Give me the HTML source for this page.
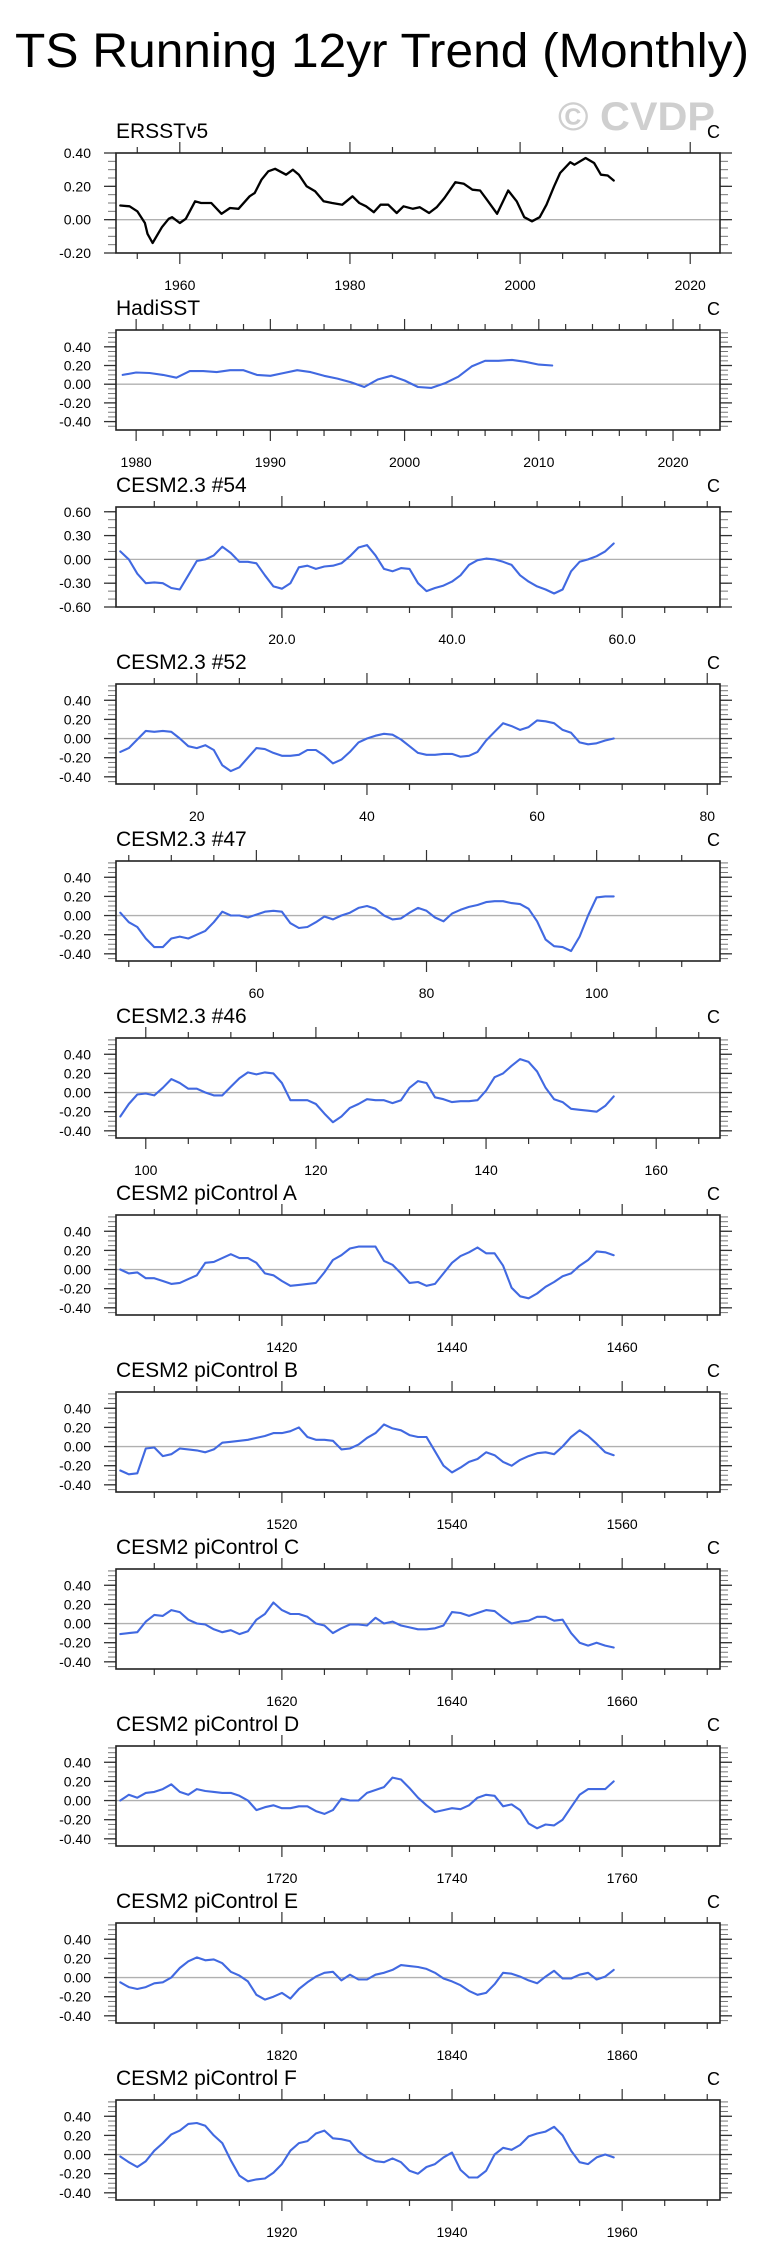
<!DOCTYPE html>
<html><head><meta charset="utf-8">
<style>
html,body{margin:0;padding:0;background:#fff;}
svg{display:block;font-family:"Liberation Sans",Arial,sans-serif;}
</style></head>
<body>
<svg id="chart" width="760" height="2266" viewBox="0 0 760 2266" xmlns="http://www.w3.org/2000/svg">
<text x="15" y="67" font-size="48" textLength="734" lengthAdjust="spacingAndGlyphs" fill="#000">TS Running 12yr Trend (Monthly)</text>
<text x="558" y="130" font-size="40" font-weight="bold" fill="#cfcfcf" textLength="157" lengthAdjust="spacingAndGlyphs">© CVDP</text>
</svg>
<script>
// ---- data ----
const ersstYears = [1953.0,1954.1,1955.0,1955.9,1956.2,1956.8,1957.9,1958.7,1959.1,1960.0,1960.7,1961.8,1962.5,1963.7,1964.9,1965.9,1966.9,1968.2,1968.8,1969.6,1970.4,1971.2,1972.5,1973.3,1974.0,1974.9,1975.9,1976.9,1977.9,1979.1,1980.3,1981.1,1981.9,1982.8,1983.6,1984.5,1985.5,1986.3,1987.4,1988.2,1989.3,1990.2,1991.1,1992.4,1993.4,1994.4,1995.3,1996.1,1997.3,1998.6,1999.6,2000.5,2001.4,2002.3,2003.1,2004.0,2004.7,2005.9,2006.4,2007.7,2008.7,2009.5,2010.3,2011.0];
const ersstVals = [0.085,0.08,0.05,-0.02,-0.085,-0.14,-0.045,0.005,0.015,-0.02,0.005,0.11,0.1,0.1,0.035,0.07,0.065,0.14,0.16,0.24,0.29,0.305,0.27,0.30,0.27,0.2,0.17,0.11,0.1,0.09,0.14,0.1,0.08,0.045,0.09,0.09,0.04,0.08,0.065,0.075,0.04,0.075,0.13,0.225,0.215,0.18,0.175,0.12,0.035,0.175,0.11,0.015,-0.01,0.015,0.09,0.2,0.28,0.345,0.33,0.37,0.34,0.27,0.265,0.235];
const hadStart = 1979;
const hadVals = [0.10,0.125,0.12,0.10,0.07,0.14,0.14,0.13,0.15,0.15,0.10,0.09,0.12,0.15,0.13,0.09,0.06,0.02,-0.03,0.05,0.09,0.04,-0.03,-0.04,0.01,0.08,0.19,0.25,0.25,0.26,0.24,0.21,0.20];
const c54Start = 1;
const c54Vals = [0.10,0.0,-0.18,-0.3,-0.29,-0.3,-0.36,-0.38,-0.2,-0.02,0.0,0.05,0.16,0.08,-0.03,-0.03,-0.05,-0.2,-0.34,-0.37,-0.3,-0.1,-0.08,-0.12,-0.09,-0.08,-0.05,0.04,0.15,0.18,0.05,-0.12,-0.15,-0.11,-0.12,-0.3,-0.4,-0.36,-0.33,-0.28,-0.2,-0.07,-0.01,0.01,0.0,-0.03,-0.07,-0.2,-0.28,-0.34,-0.38,-0.43,-0.38,-0.15,-0.03,0.0,0.04,0.1,0.2];
const c52Start = 11;
const c52Vals = [-0.14,-0.1,-0.01,0.08,0.07,0.08,0.07,0.0,-0.08,-0.1,-0.07,-0.12,-0.28,-0.34,-0.3,-0.2,-0.1,-0.11,-0.15,-0.18,-0.18,-0.17,-0.12,-0.12,-0.18,-0.26,-0.22,-0.14,-0.04,0.0,0.03,0.05,0.04,-0.01,-0.08,-0.15,-0.17,-0.17,-0.16,-0.16,-0.19,-0.18,-0.14,-0.02,0.07,0.16,0.13,0.09,0.12,0.19,0.18,0.16,0.09,0.06,-0.04,-0.06,-0.05,-0.02,0.0];
const c47Start = 44;
const c47Vals = [0.03,-0.07,-0.12,-0.24,-0.33,-0.33,-0.24,-0.22,-0.24,-0.2,-0.16,-0.07,0.04,0.0,0.0,-0.02,0.01,0.04,0.05,0.04,-0.08,-0.13,-0.12,-0.07,-0.01,-0.04,0.0,0.03,0.08,0.1,0.07,0.0,-0.04,-0.03,0.03,0.08,0.05,-0.02,-0.06,0.02,0.06,0.09,0.11,0.14,0.15,0.15,0.13,0.12,0.07,-0.06,-0.25,-0.32,-0.33,-0.37,-0.22,0.0,0.19,0.2,0.2];
const c46Start = 97;
const c46Vals = [-0.25,-0.12,-0.02,-0.01,-0.03,0.05,0.14,0.1,0.04,0.04,0.0,-0.03,-0.03,0.06,0.15,0.21,0.19,0.21,0.2,0.1,-0.08,-0.08,-0.08,-0.12,-0.22,-0.31,-0.25,-0.16,-0.12,-0.07,-0.08,-0.08,-0.11,-0.08,0.05,0.12,0.1,-0.05,-0.07,-0.1,-0.09,-0.09,-0.08,0.02,0.16,0.2,0.28,0.35,0.32,0.22,0.05,-0.07,-0.1,-0.17,-0.18,-0.19,-0.2,-0.14,-0.04];
const piAStart = 1401;
const piAVals = [0.0,-0.04,-0.03,-0.09,-0.09,-0.12,-0.15,-0.14,-0.1,-0.06,0.07,0.08,0.12,0.16,0.12,0.12,0.07,-0.04,-0.06,-0.12,-0.17,-0.16,-0.15,-0.14,-0.03,0.1,0.15,0.22,0.24,0.24,0.24,0.09,0.05,-0.04,-0.14,-0.13,-0.17,-0.15,-0.04,0.07,0.14,0.18,0.23,0.17,0.17,0.04,-0.19,-0.28,-0.3,-0.25,-0.18,-0.13,-0.07,-0.04,0.04,0.1,0.19,0.18,0.15];
const piBStart = 1501;
const piBVals = [-0.25,-0.29,-0.28,-0.02,-0.01,-0.1,-0.08,-0.02,-0.03,-0.04,-0.06,-0.03,0.04,0.05,0.06,0.07,0.09,0.11,0.14,0.14,0.16,0.2,0.1,0.07,0.07,0.06,-0.03,-0.02,0.02,0.09,0.14,0.23,0.19,0.17,0.12,0.1,0.1,-0.05,-0.2,-0.27,-0.22,-0.16,-0.13,-0.06,-0.09,-0.16,-0.2,-0.14,-0.1,-0.07,-0.06,-0.08,0.0,0.1,0.17,0.11,0.03,-0.06,-0.09];
const piCStart = 1601;
const piCVals = [-0.11,-0.1,-0.09,0.02,0.09,0.08,0.14,0.12,0.04,0.0,-0.01,-0.06,-0.09,-0.07,-0.11,-0.08,0.04,0.1,0.22,0.14,0.1,0.1,0.07,0.0,-0.02,-0.1,-0.05,-0.01,-0.01,-0.02,0.06,0.0,0.02,-0.02,-0.04,-0.06,-0.06,-0.05,-0.02,0.12,0.11,0.08,0.11,0.14,0.13,0.06,0.0,0.02,0.03,0.07,0.07,0.03,0.04,-0.1,-0.2,-0.23,-0.2,-0.23,-0.25];
const piDStart = 1701;
const piDVals = [0.0,0.06,0.03,0.08,0.09,0.12,0.17,0.09,0.06,0.12,0.1,0.09,0.08,0.08,0.05,0.0,-0.1,-0.07,-0.05,-0.08,-0.08,-0.06,-0.06,-0.11,-0.14,-0.1,0.02,0.0,0.0,0.08,0.11,0.14,0.24,0.22,0.13,0.03,-0.05,-0.12,-0.1,-0.08,-0.09,-0.05,0.03,0.06,0.05,-0.06,-0.04,-0.1,-0.24,-0.29,-0.25,-0.26,-0.2,-0.07,0.06,0.12,0.12,0.12,0.2];
const piEStart = 1801;
const piEVals = [-0.05,-0.1,-0.12,-0.1,-0.06,-0.05,0.0,0.1,0.17,0.21,0.18,0.19,0.15,0.06,0.02,-0.04,-0.18,-0.23,-0.2,-0.16,-0.22,-0.12,-0.05,0.01,0.05,0.06,-0.03,0.03,-0.02,-0.02,0.03,0.05,0.08,0.13,0.12,0.11,0.09,0.05,-0.01,-0.04,-0.08,-0.14,-0.18,-0.16,-0.07,0.05,0.04,0.01,-0.03,-0.06,0.01,0.07,-0.01,-0.01,0.03,0.05,-0.02,0.01,0.08];
const piFStart = 1901;
const piFVals = [-0.02,-0.08,-0.13,-0.07,0.04,0.12,0.21,0.25,0.32,0.33,0.3,0.2,0.12,-0.06,-0.22,-0.28,-0.26,-0.25,-0.19,-0.1,0.04,0.12,0.14,0.22,0.25,0.17,0.16,0.14,0.03,-0.03,-0.07,-0.08,-0.04,-0.08,-0.17,-0.2,-0.13,-0.1,-0.03,0.02,-0.16,-0.24,-0.24,-0.17,0.0,0.07,0.05,0.1,0.19,0.22,0.24,0.29,0.2,0.04,-0.08,-0.1,-0.03,0.0,-0.03];

const panelNames = ["ERSSTv5","HadiSST","CESM2.3 #54","CESM2.3 #52","CESM2.3 #47","CESM2.3 #46","CESM2 piControl A","CESM2 piControl B","CESM2 piControl C","CESM2 piControl D","CESM2 piControl E","CESM2 piControl F"];
const yTicksStd = [-0.4,-0.2,0,0.2,0.4];
const yTicksErsst = [-0.2,0,0.2,0.4];
const yTicks54 = [-0.6,-0.3,0,0.3,0.6];

function seq(start, n){const a=[];for(let i=0;i<n;i++)a.push(start+i);return a;}

const panels = [
 {xs:ersstYears, ys:ersstVals, xmin:1952.5, xmax:2023.5, maj:20, min:5, fmt:0, ymin:-0.2, ymax:0.4, yt:yTicksErsst, ymin_step:0.05, color:"#000", w:2.3},
 {xs:seq(hadStart,hadVals.length), ys:hadVals, xmin:1978.5, xmax:2023.5, maj:10, min:2, fmt:0, ymin:-0.49, ymax:0.58, yt:yTicksStd, ymin_step:0.05},
 {xs:seq(c54Start,c54Vals.length), ys:c54Vals, xmin:0.5, xmax:71.5, maj:20, min:5, fmt:1, ymin:-0.6, ymax:0.66, yt:yTicks54, ymin_step:0.1},
 {xs:seq(c52Start,c52Vals.length), ys:c52Vals, xmin:10.5, xmax:81.5, maj:20, min:5, fmt:0},
 {xs:seq(c47Start,c47Vals.length), ys:c47Vals, xmin:43.5, xmax:114.5, maj:20, min:5, fmt:0},
 {xs:seq(c46Start,c46Vals.length), ys:c46Vals, xmin:96.5, xmax:167.5, maj:20, min:5, fmt:0},
 {xs:seq(piAStart,piAVals.length), ys:piAVals, xmin:1400.5, xmax:1471.5, maj:20, min:5, fmt:0},
 {xs:seq(piBStart,piBVals.length), ys:piBVals, xmin:1500.5, xmax:1571.5, maj:20, min:5, fmt:0},
 {xs:seq(piCStart,piCVals.length), ys:piCVals, xmin:1600.5, xmax:1671.5, maj:20, min:5, fmt:0},
 {xs:seq(piDStart,piDVals.length), ys:piDVals, xmin:1700.5, xmax:1771.5, maj:20, min:5, fmt:0},
 {xs:seq(piEStart,piEVals.length), ys:piEVals, xmin:1800.5, xmax:1871.5, maj:20, min:5, fmt:0},
 {xs:seq(piFStart,piFVals.length), ys:piFVals, xmin:1900.5, xmax:1971.5, maj:20, min:5, fmt:0}
];

const NS="http://www.w3.org/2000/svg";
const svg=document.getElementById('chart');
function mk(tag,attrs,parent){const e=document.createElementNS(NS,tag);for(const k in attrs)e.setAttribute(k,attrs[k]);(parent||svg).appendChild(e);return e;}

const L=116, R=720, H=100;
const tops=[153,330,507,684,861,1038,1215,1392,1569,1746,1923,2100];

panels.forEach((p,i)=>{
  const top=tops[i], bot=top+H;
  const ymin=p.ymin!==undefined?p.ymin:-0.475, ymax=p.ymax!==undefined?p.ymax:0.57;
  const yt=p.yt||yTicksStd, ystep=p.ymin_step||0.05;
  const X=v=>L+(v-p.xmin)/(p.xmax-p.xmin)*(R-L);
  const Y=v=>bot-(v-ymin)/(ymax-ymin)*H;
  const g=mk('g',{});
  
  
  const lbl=mk('text',{x:L,y:top-15,'font-size':21,fill:'#000'},g);
  lbl.textContent=panelNames[i];
  
  
  const un=mk('text',{x:R,y:top-15,'font-size':18,'text-anchor':'end',fill:'#000'},g);
  un.textContent='C';
  
  
  const z=mk('line',{x1:L,x2:R,y1:Y(0),y2:Y(0),stroke:'#b0b0b0','stroke-width':1.3},g);
  
  
  for(let v=Math.ceil(ymin/ystep-1e-6)*ystep; v<=ymax+1e-9; v+=ystep){
    const yy=Y(v); if(yy<top-0.5||yy>bot+0.5) continue;
    mk('line',{x1:L-8,x2:L,y1:yy,y2:yy,stroke:'#777','stroke-width':1},g);
    mk('line',{x1:R,x2:R+8,y1:yy,y2:yy,stroke:'#777','stroke-width':1},g);
  }
  yt.forEach(v=>{
    const yy=Y(v);
    mk('line',{x1:L-12,x2:L,y1:yy,y2:yy,stroke:'#333','stroke-width':1.3},g);
    mk('line',{x1:R,x2:R+12,y1:yy,y2:yy,stroke:'#333','stroke-width':1.3},g);
    const t=mk('text',{x:91,y:yy+5,'font-size':14,'text-anchor':'end',fill:'#000'},g);
    t.textContent=v.toFixed(2);
    
    
  });
  for(let v=Math.ceil(p.xmin/p.min)*p.min; v<=p.xmax; v+=p.min){
    const xx=X(v), major=Math.abs(v/p.maj-Math.round(v/p.maj))<1e-6;
    const len=major?11:6;
    mk('line',{x1:xx,x2:xx,y1:bot,y2:bot+len,stroke:'#333','stroke-width':1.2},g);
    mk('line',{x1:xx,x2:xx,y1:top,y2:top-len,stroke:'#333','stroke-width':1.2},g);
    if(major){
      const t=mk('text',{x:xx,y:bot+37,'font-size':14,'text-anchor':'middle',fill:'#000'},g);
      t.textContent=p.fmt?v.toFixed(1):String(v);
      
      
    }
  }
  const fr=mk('rect',{x:L,y:top,width:R-L,height:H,fill:'none',stroke:'#222','stroke-width':1.6},g);
  
  
  const pts=p.xs.map((x,k)=>X(x).toFixed(1)+','+Y(p.ys[k]).toFixed(1)).join(' ');
  const ln=mk('polyline',{points:pts,fill:'none',stroke:p.color||'#4169e1','stroke-width':p.w||2.1,'stroke-linejoin':'round','stroke-linecap':'round'},g);
  
  
});
</script>
</body></html>
